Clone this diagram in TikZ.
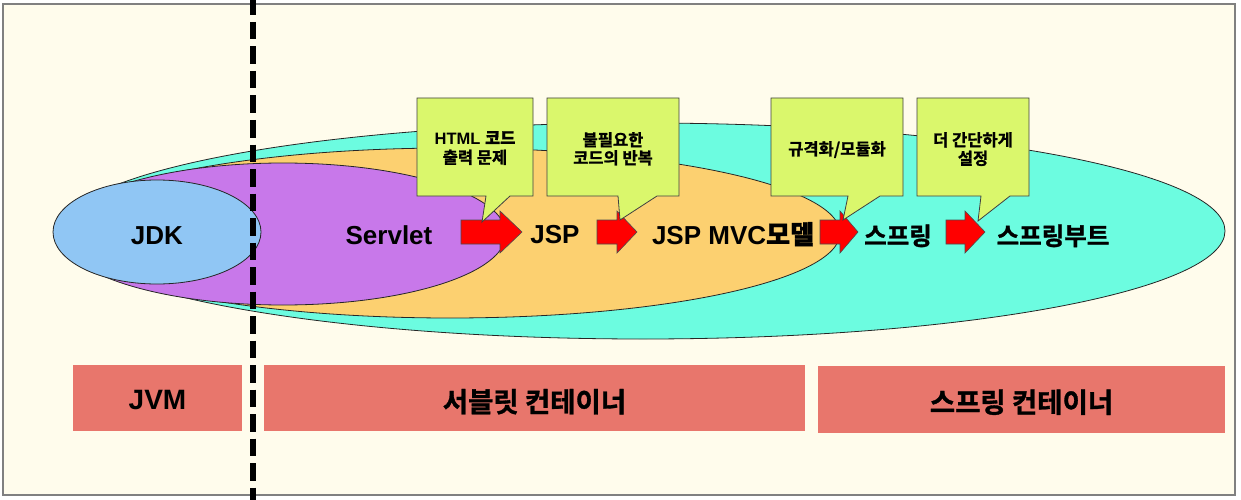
\documentclass[tikz,border=0pt]{standalone}
\usepackage{fontspec}
\setmainfont{Liberation Sans}
\newfontfamily\korfont{Noto Sans CJK KR Bold}[FakeBold=1.2]
\usetikzlibrary{shapes.geometric}
\definecolor{bgc}{HTML}{FFFCEC}
\definecolor{cyanc}{HTML}{6CFCE0}
\definecolor{orangec}{HTML}{FCD070}
\definecolor{purplec}{HTML}{C878EA}
\definecolor{bluec}{HTML}{90C6F4}
\definecolor{calloutc}{HTML}{DAF76C}
\definecolor{salmonc}{HTML}{E8766C}
\definecolor{framec}{HTML}{808080}
\newcommand\kor[1]{{\korfont #1}}
\begin{document}
\begin{tikzpicture}[x=1pt,y=-1pt,
  ell/.style={ellipse, draw=black!85, line width=0.8pt, inner sep=0pt},
  maintxt/.style={anchor=base, inner sep=0pt, font=\bfseries\fontsize{26}{30}\selectfont},
  mainkor/.style={anchor=base, inner sep=0pt, font=\korfont\fontsize{24.5}{30}\selectfont},
  bartxt/.style={anchor=base, inner sep=0pt, font=\bfseries\fontsize{28}{32}\selectfont},
  barkor/.style={anchor=base, inner sep=0pt, font=\korfont\fontsize{27.5}{32}\selectfont},
  cotxt/.style={anchor=base, inner sep=0pt, font=\bfseries\fontsize{16.5}{20}\selectfont},
  cokor/.style={anchor=base, inner sep=0pt, font=\korfont\fontsize{16.5}{20}\selectfont},
  calloutbox/.style={fill=calloutc, draw=black!75, line width=0.8pt, line join=miter},
  redarrow/.style={fill=red, draw=black!70, line width=0.6pt, line join=miter},
  barbox/.style={fill=salmonc, draw=none},
  divider/.style={draw=black, line width=6pt, dash pattern=on 17.5pt off 7pt, dash phase=2.5pt}
]
\useasboundingbox (0,0) rectangle (1241,500);
\fill[white] (0,0) rectangle (1241,500);
\draw[fill=bgc, draw=framec, line width=1.5pt] (3,4) rectangle (1235,495);

% ellipses
\node (spring) [ell, fill=cyanc, minimum width=1164pt, minimum height=216pt] at (643,231) {};
\node (mvc) [ell, fill=orangec, minimum width=780pt, minimum height=170pt] at (450,233) {};
\node (servlet) [ell, fill=purplec, minimum width=446pt, minimum height=142pt] at (283,234) {};
\node (jdk) [ell, fill=bluec, minimum width=208pt, minimum height=104pt] at (157,232) {};

% main row labels
\node (tjdk) [maintxt] at (157,244) {JDK};
\node (tservlet) [maintxt] at (389,244.5) {Servlet};
\node (tjsp) [maintxt] at (555,243) {JSP};
\node (tmvc) [maintxt] at (733,244) {JSP MVC\kor{모델}};
\node (tspring) [mainkor] at (898,245) {스프링};
\node (tboot) [mainkor] at (1053,245) {스프링부트};

% red block arrows
\draw[redarrow] (461,220) -- (500,220) -- (500,211) -- (522,232) -- (500,253) -- (500,244) -- (461,244) -- cycle;
\draw[redarrow] (597,220) -- (617,220) -- (617,211) -- (637,232) -- (617,253) -- (617,244) -- (597,244) -- cycle;
\draw[redarrow] (820,220) -- (840,220) -- (840,211) -- (858,232) -- (840,253) -- (840,244) -- (820,244) -- cycle;
\draw[redarrow] (946,220) -- (965,220) -- (965,211) -- (985,232) -- (965,253) -- (965,244) -- (946,244) -- cycle;

% callouts
\draw[calloutbox] (417,98) -- (533,98) -- (533,196) -- (510,196) -- (482,222) -- (486,196) -- (417,196) -- cycle;
\draw[calloutbox] (547,98) -- (679,98) -- (679,196) -- (657,196) -- (620,220) -- (618,196) -- (547,196) -- cycle;
\draw[calloutbox] (771,98) -- (903,98) -- (903,196) -- (880,196) -- (843,220) -- (848,196) -- (771,196) -- cycle;
\draw[calloutbox] (917,98) -- (1029,98) -- (1029,196) -- (1010,196) -- (978,221) -- (981,196) -- (917,196) -- cycle;

\node (c1a) [cotxt] at (475,144) {HTML \kor{코드}};
\node (c1b) [cokor] at (475,163.5) {출력 문제};
\node (c2a) [cokor] at (613,146) {불필요한};
\node (c2b) [cokor] at (613,164) {코드의 반복};
\node (c3a) [cokor] at (837,155) {규격화/모듈화};
\node (c4a) [cokor] at (973,146) {더 간단하게};
\node (c4b) [cokor] at (973,164.5) {설정};

% bottom bars
\fill[barbox] (73,365) rectangle (242,431);
\fill[barbox] (264,365) rectangle (805,431);
\fill[barbox] (818,366) rectangle (1225,433);
\node (jvm) [bartxt] at (157.5,409) {JVM};
\node (scont) [barkor] at (534.5,412) {서블릿 컨테이너};
\node (spcont) [barkor] at (1021.5,412.5) {스프링 컨테이너};

% divider
\coordinate (dtop) at (253,0);
\coordinate (dbot) at (253,500);
\draw[divider] (dtop) -- (dbot);
\end{tikzpicture}
\end{document}
